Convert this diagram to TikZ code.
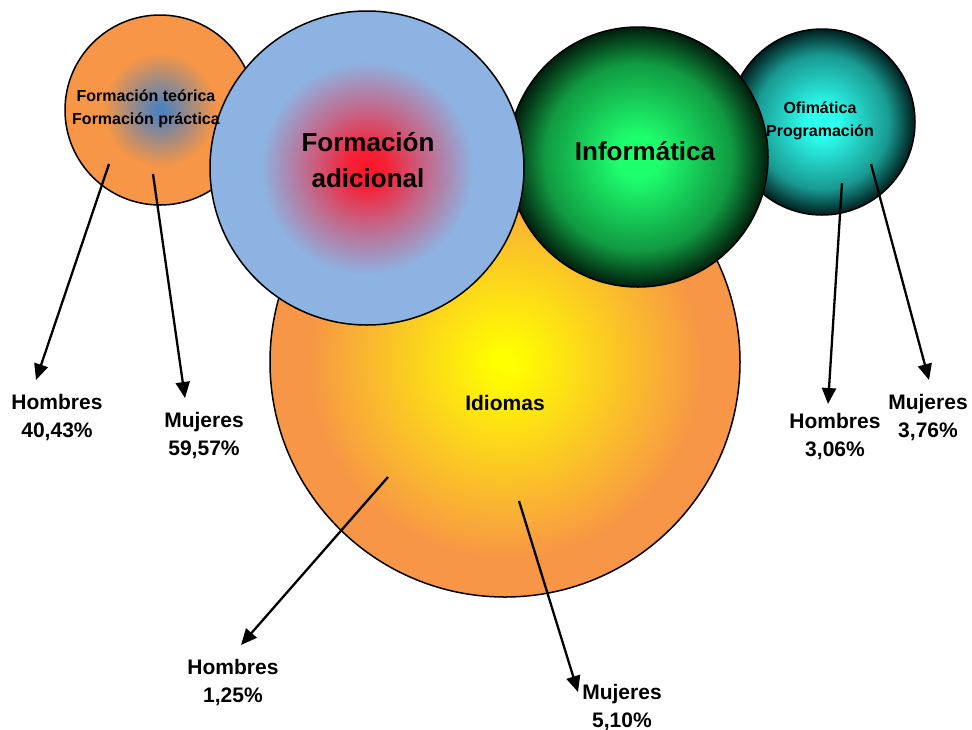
\documentclass[tikz,border=0pt]{standalone}
\usepackage{fontspec}
\setmainfont{Liberation Sans}
\usetikzlibrary{arrows.meta}

\definecolor{naranja}{RGB}{247,150,70}
\definecolor{azulOsc}{RGB}{79,129,189}
\definecolor{azulClaro}{RGB}{141,179,226}
\definecolor{rojo}{RGB}{255,20,40}
\definecolor{amarillo}{RGB}{255,255,0}
\definecolor{verde}{RGB}{30,255,110}
\definecolor{verdeOsc}{RGB}{0,30,12}
\definecolor{cian}{RGB}{45,255,240}
\definecolor{cianOsc}{RGB}{0,30,30}

\pgfdeclareradialshading{shTeoria}{\pgfpointorigin}{color(0bp)=(azulOsc); color(1bp)=(azulOsc); color(15bp)=(naranja); color(25bp)=(naranja); color(50bp)=(naranja)}
\pgfdeclareradialshading{shAdicional}{\pgfpointorigin}{color(0bp)=(rojo); color(3bp)=(rojo!92!azulClaro); color(9bp)=(rojo!50!azulClaro); color(17bp)=(azulClaro); color(25bp)=(azulClaro); color(50bp)=(azulClaro)}
\pgfdeclareradialshading{shIdiomas}{\pgfpointorigin}{color(0bp)=(amarillo); color(1bp)=(amarillo); color(21bp)=(naranja); color(25bp)=(naranja); color(50bp)=(naranja)}
\pgfdeclareradialshading{shInformatica}{\pgfpointorigin}{color(0bp)=(verde); color(4bp)=(verde); color(18bp)=(verde!55!verdeOsc); color(25bp)=(verdeOsc); color(50bp)=(verdeOsc)}
\pgfdeclareradialshading{shOfimatica}{\pgfpointorigin}{color(0bp)=(cian); color(4bp)=(cian); color(18bp)=(cian!55!cianOsc); color(25bp)=(cianOsc); color(50bp)=(cianOsc)}

\tikzset{
  burbuja/.style={circle, draw=black, line width=1.5pt, inner sep=0pt},
  textoChico/.style={font=\bfseries\fontsize{16}{22.5}\selectfont, align=center, inner sep=0pt},
  textoGrande/.style={font=\bfseries\fontsize{26}{36}\selectfont, align=center, inner sep=0pt},
  etiqueta/.style={font=\bfseries\fontsize{21}{28}\selectfont, align=center, inner sep=0pt},
  flecha/.style={line width=2.3pt, -{Triangle[length=16pt,width=14pt]}}
}

\begin{document}
\begin{tikzpicture}[x=1pt,y=-1pt]
    \useasboundingbox (0,0) rectangle (972,729);

    % Circles
    \node[burbuja, minimum size=190pt, shading=shTeoria] (teoria) at (160,110) {};
    \node[burbuja, minimum size=186pt, shading=shOfimatica] (ofimatica) at (822,122) {};
    \node[burbuja, minimum size=470pt, shading=shIdiomas] (idiomas) at (505,362) {};
    \node[burbuja, minimum size=260pt, shading=shInformatica] (informatica) at (638,157) {};
    \node[burbuja, minimum size=314pt, shading=shAdicional] (adicional) at (367,168) {};

    % Texts in the circles
    \node[textoChico] (tTeoria) at (146,109) {Formación teórica\\Formación práctica};
    \node[textoGrande] (tAdicional) at (368,160) {Formación\\adicional};
    \node[textoGrande] (tInformatica) at (645,151) {Informática};
    \node[textoChico] (tOfimatica) at (820,121) {Ofimática\\Programación};
    \node[etiqueta] (tIdiomas) at (505,403) {Idiomas};

    % Labels
    \node[etiqueta] (hombres1) at (57,418) {Hombres\\40,43\%};
    \node[etiqueta] (mujeres1) at (204,436) {Mujeres\\59,57\%};
    \node[etiqueta] (hombres2) at (233,683) {Hombres\\1,25\%};
    \node[etiqueta] (mujeres2) at (622,708) {Mujeres\\5,10\%};
    \node[etiqueta] (hombres3) at (835,437) {Hombres\\3,06\%};
    \node[etiqueta] (mujeres3) at (928,418) {Mujeres\\3,76\%};

    % Arrows
    \coordinate (s1) at (109,164); \coordinate (e1) at (36,380);
    \coordinate (s2) at (153,174); \coordinate (e2) at (185,398);
    \coordinate (s3) at (388,477); \coordinate (e3) at (241,645);
    \coordinate (s4) at (519,501); \coordinate (e4) at (578,692);
    \coordinate (s5) at (842,183); \coordinate (e5) at (828,404);
    \coordinate (s6) at (871,164); \coordinate (e6) at (929,380);

    \draw[flecha] (s1) -- (e1);
    \draw[flecha] (s2) -- (e2);
    \draw[flecha] (s3) -- (e3);
    \draw[flecha] (s4) -- (e4);
    \draw[flecha] (s5) -- (e5);
    \draw[flecha] (s6) -- (e6);

\end{tikzpicture}
\end{document}
